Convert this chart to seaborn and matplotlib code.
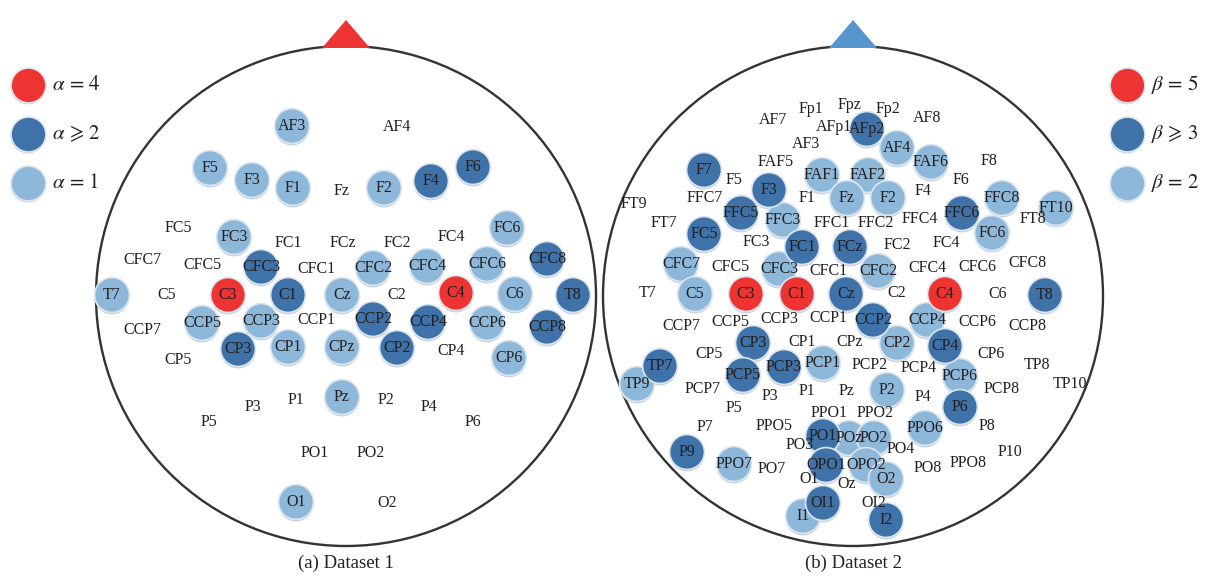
import pandas as pd
import seaborn as sns
import matplotlib.pyplot as plt
from matplotlib.patches import Circle, Polygon

# electrode positions in head frame (x right, y up, head radius = 250)
# level: 0 = label only, 1 = light, 2 = dark, 3 = red
ds1_names = ["AF3", "AF4", "F5", "F3", "F1", "Fz", "F2", "F4", "F6",
             "FC5", "FC3", "FC1", "FCz", "FC2", "FC4", "FC6",
             "CFC7", "CFC5", "CFC3", "CFC1", "CFC2", "CFC4", "CFC6", "CFC8",
             "T7", "C5", "C3", "C1", "Cz", "C2", "C4", "C6", "T8",
             "CCP7", "CCP5", "CCP3", "CCP1", "CCP2", "CCP4", "CCP6", "CCP8",
             "CP5", "CP3", "CP1", "CPz", "CP2", "CP4", "CP6",
             "P5", "P3", "P1", "Pz", "P2", "P4", "P6",
             "PO1", "PO2", "O1", "O2"]
ds1_x = [-54, 51, -136, -94, -53, -4, 38, 85, 127,
         -168, -112, -58, -3, 51, 105, 161,
         -204, -144, -85, -30, 27, 81, 141, 201,
         -234, -179, -118, -58, -4, 51, 110, 169, 227,
         -204, -144, -85, -30, 27, 82, 141, 201,
         -168, -108, -58, -4, 51, 105, 163,
         -137, -93, -50, -4, 40, 83, 127,
         -31, 25, -50, 41]
ds1_y = [170, 169, 128, 116, 108, 105, 108, 115, 129,
         68, 59, 53, 53, 53, 59, 68,
         36, 31, 29, 27, 28, 30, 32, 37,
         1, 1, 1, 1, 1, 1, 3, 2, 1,
         -34, -27, -25, -24, -23, -26, -27, -31,
         -64, -53, -51, -51, -52, -55, -62,
         -126, -111, -104, -101, -104, -111, -126,
         -157, -157, -206, -207]
ds1_level = [1, 0, 1, 1, 1, 0, 1, 2, 2,
             0, 1, 0, 0, 0, 0, 1,
             0, 0, 2, 0, 1, 1, 1, 2,
             1, 0, 3, 2, 1, 0, 3, 1, 2,
             0, 1, 1, 0, 2, 2, 1, 2,
             0, 2, 1, 1, 2, 0, 1,
             0, 0, 0, 1, 0, 0, 0,
             0, 0, 1, 0]

ds2_names = ["AF7", "Fp1", "Fpz", "Fp2", "AF8", "AFp1", "AFp2", "AF3", "AF4",
             "F7", "FAF5", "FAF1", "FAF2", "FAF6", "F8", "F5", "F3", "F6",
             "F1", "Fz", "F2", "F4",
             "FT9", "FFC7", "FFC8", "FT10", "FFC5", "FFC3", "FFC1", "FFC2",
             "FFC4", "FFC6", "FT7", "FT8",
             "FC5", "FC3", "FC1", "FCz", "FC2", "FC4", "FC6",
             "CFC7", "CFC5", "CFC3", "CFC1", "CFC2", "CFC4", "CFC6", "CFC8",
             "T7", "C5", "C3", "C1", "Cz", "C2", "C4", "C6", "T8",
             "CCP7", "CCP5", "CCP3", "CCP1", "CCP2", "CCP4", "CCP6", "CCP8",
             "CP5", "CP3", "CP1", "CPz", "CP2", "CP4", "CP6",
             "TP7", "TP8", "TP9", "TP10",
             "PCP7", "PCP5", "PCP3", "PCP1", "PCP2", "PCP4", "PCP6", "PCP8",
             "P3", "P1", "Pz", "P2", "P4", "P6", "P5", "P8", "P7", "P9", "P10",
             "PPO5", "PPO1", "PPO2", "PPO6", "PPO7", "PPO8",
             "PO7", "PO3", "PO1", "POz", "PO2", "PO4", "PO8",
             "OPO1", "OPO2", "O1", "Oz", "O2", "OI1", "OI2", "I1", "I2"]
ds2_x = [-80, -42, -3, 35, 74, -19, 14, -47, 44,
         -149, -77, -31, 15, 78, 136, -119, -84, 108,
         -46, -6, 35, 70,
         -219, -148, 149, 203, -112, -70, -21, 23,
         67, 109, -189, 180,
         -149, -97, -51, -3, 44, 93, 139,
         -172, -123, -74, -25, 25, 74, 124, 174,
         -205, -158, -107, -56, -7, 44, 92, 145, 192,
         -172, -123, -74, -25, 20, 74, 124, 174,
         -144, -100, -51, -3, 44, 92, 138,
         -193, 184, -216, 217,
         -150, -110, -69, -30, 17, 66, 107, 149,
         -83, -46, -6, 34, 70, 107, -119, 134, -148, -166, 157,
         -79, -24, 22, 72, -119, 115,
         -81, -53, -30, -4, 21, 48, 75,
         -27, 13, -44, -6, 33, -30, 21, -50, 33]
ds2_y = [176, 187, 191, 187, 178, 169, 167, 152, 148,
         126, 134, 121, 121, 134, 135, 116, 106, 116,
         98, 98, 98, 105,
         92, 98, 98, 88, 83, 76, 73, 73,
         77, 83, 73, 77,
         62, 54, 49, 49, 51, 53, 63,
         32, 29, 27, 25, 25, 28, 29, 33,
         3, 2, 2, 2, 2, 3, 2, 2, 1,
         -30, -26, -23, -22, -24, -24, -26, -30,
         -58, -47, -46, -46, -47, -50, -58,
         -70, -69, -88, -88,
         -93, -79, -71, -67, -69, -72, -80, -93,
         -100, -95, -95, -94, -101, -111, -112, -130, -131, -156, -156,
         -130, -117, -117, -132, -168, -167,
         -173, -149, -140, -142, -142, -153, -172,
         -169, -169, -183, -188, -183, -207, -207, -220, -224]
ds2_level = [0, 0, 0, 0, 0, 0, 2, 0, 1,
             2, 0, 1, 1, 1, 0, 0, 2, 0,
             0, 1, 1, 0,
             0, 0, 1, 1, 2, 1, 0, 0,
             0, 2, 0, 0,
             2, 0, 2, 2, 0, 0, 1,
             1, 0, 1, 0, 1, 0, 0, 0,
             0, 1, 3, 3, 2, 0, 3, 0, 2,
             0, 0, 0, 0, 2, 1, 0, 0,
             0, 2, 0, 0, 1, 2, 0,
             2, 0, 1, 0,
             0, 2, 2, 1, 0, 0, 1, 0,
             0, 0, 0, 1, 0, 2, 0, 0, 0, 2, 0,
             0, 0, 0, 1, 1, 0,
             0, 0, 2, 1, 1, 0, 0,
             2, 1, 0, 0, 1, 2, 0, 1, 2]

captions = ["(a) Dataset 1", "(b) Dataset 2"]
legend1_labels = [r"$\alpha\,=\,4$", r"$\alpha\,\geqslant\,2$", r"$\alpha\,=\,1$"]
legend2_labels = [r"$\beta\,=\,5$", r"$\beta\,\geqslant\,3$", r"$\beta\,=\,2$"]
legend_levels = [3, 2, 1]

sns.set_style("white")
plt.rcParams["mathtext.fontset"] = "stix"
plt.rcParams["font.family"] = ["Liberation Serif", "DejaVu Serif"]

palette = {1: "#8db8da", 2: "#3e72a8", 3: "#ee3333"}
label_color = "#231f20"
dot_size = 630

fig = plt.figure(figsize=(12.16, 5.76), dpi=100)
ax = fig.add_axes([0, 0, 1, 1])
ax.set_xlim(0, 1216)
ax.set_ylim(576, 0)
ax.set_axis_off()

heads = [
    dict(cx=346, cy=296, names=ds1_names, x=ds1_x, y=ds1_y, level=ds1_level,
         nose="#ee3333", caption=captions[0]),
    dict(cx=853, cy=296, names=ds2_names, x=ds2_x, y=ds2_y, level=ds2_level,
         nose="#5796cc", caption=captions[1]),
]

for h in heads:
    cx, cy = h["cx"], h["cy"]
    ax.add_patch(Circle((cx, cy), 250, fill=False, lw=1.7, ec="#333333", zorder=1))
    ax.add_patch(Polygon([(cx - 24, 48), (cx + 24, 48), (cx, 20)],
                         closed=True, fc=h["nose"], ec="none", zorder=1))

    df = pd.DataFrame({"name": h["names"], "x": h["x"], "y": h["y"], "level": h["level"]})
    df["px"] = cx + df["x"]
    df["py"] = cy - df["y"]
    filled = df[df["level"] > 0].sort_values("level", kind="stable")

    # soft shadow under the dots
    ax.scatter(filled["px"], filled["py"] + 2, s=dot_size, c="#c3d2e0",
               edgecolors="none", zorder=2)
    sns.scatterplot(data=filled, x="px", y="py", hue="level", palette=palette,
                    s=dot_size, edgecolor="#dde5ee", linewidth=1.2,
                    legend=False, ax=ax, zorder=3)

    for _, r in df.iterrows():
        ax.text(r["px"], r["py"], r["name"], ha="center", va="center",
                fontsize=11.5, color=label_color, zorder=5)

    ax.text(cx, 563, h["caption"], ha="center", va="center", fontsize=13.5,
            color=label_color)

# legends
for lx, labels in [(28, legend1_labels), (1127, legend2_labels)]:
    for i, (lev, lab) in enumerate(zip(legend_levels, labels)):
        ly = 85 + 49 * i
        ax.scatter([lx], [ly + 2], s=dot_size, c="#c3d2e0", edgecolors="none", zorder=2)
        ax.scatter([lx], [ly], s=dot_size, c=palette[lev], edgecolors="#dde5ee",
                   linewidths=1.2, zorder=3)
        ax.text(lx + 24, ly, lab, ha="left", va="center", fontsize=15, color=label_color)

ax.set_xlabel("")
ax.set_ylabel("")
fig.savefig("out.png", dpi=100)
